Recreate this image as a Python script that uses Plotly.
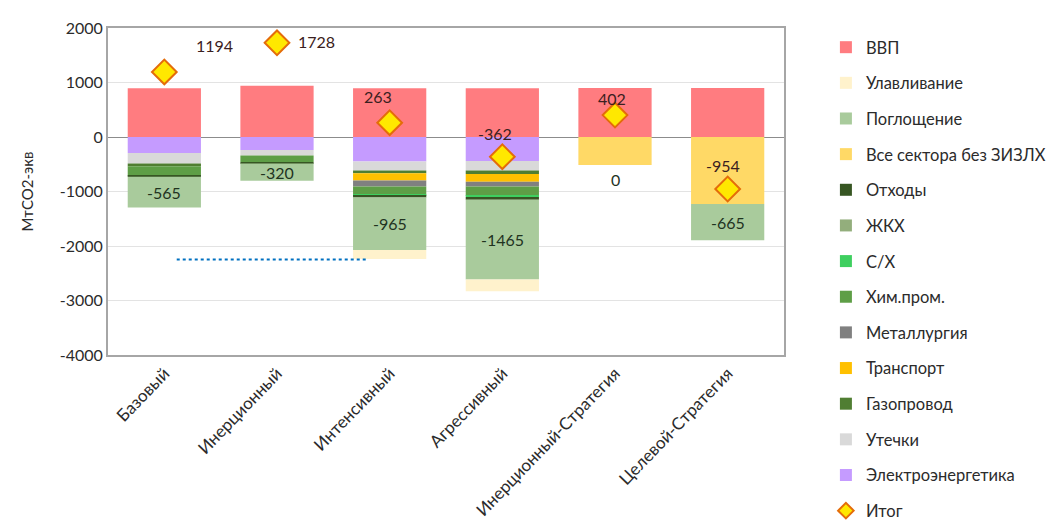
import plotly.graph_objects as go

categories = ["Базовый", "Инерционный", "Интенсивный", "Агрессивный",
              "Инерционный-Стратегия", "Целевой-Стратегия"]

# values, MtCO2-eq (stack order from zero downward)
elektro = [-295, -240, -450, -440, 0, 0]
utechki = [-190, -100, -165, -175, 0, 0]
gazoprovod = [-50, 0, -50, -65, 0, 0]
transport = [0, 0, -135, -140, 0, 0]
metallurgia = [0, 0, -110, -90, 0, 0]
himprom = [-175, -120, -150, -170, 0, 0]
sh = [0, 0, -15, -20, 0, 0]
zhkh = [0, 0, 0, 0, 0, 0]
otkhody = [-20, -25, -35, -50, 0, 0]
vse_sektora = [0, 0, 0, 0, -515, -1230]
pogloshenie = [-565, -320, -965, -1465, 0, -665]
ulavlivanie = [0, 0, -165, -215, 0, 0]
vvp = [895, 940, 895, 895, 900, 900]
itog = [1194, 1728, 263, -362, 402, -954]

y_ticks = [2000, 1000, 0, -1000, -2000, -3000, -4000]

series = [
    ("Электроэнергетика", elektro, "#C59BFF"),
    ("Утечки", utechki, "#D9D9D9"),
    ("Газопровод", gazoprovod, "#507E32"),
    ("Транспорт", transport, "#FFC000"),
    ("Металлургия", metallurgia, "#808080"),
    ("Хим.пром.", himprom, "#5E9E46"),
    ("С/Х", sh, "#3ECF5F"),
    ("ЖКХ", zhkh, "#93AE7C"),
    ("Отходы", otkhody, "#375623"),
    ("Все сектора без ЗИЗЛХ", vse_sektora, "#FFD966"),
    ("Поглощение", pogloshenie, "#A9CB9C"),
    ("Улавливание", ulavlivanie, "#FFF2CC"),
    ("ВВП", vvp, "#FF7C80"),
]
legend_order = ["ВВП", "Улавливание", "Поглощение", "Все сектора без ЗИЗЛХ", "Отходы",
                "ЖКХ", "С/Х", "Хим.пром.", "Металлургия", "Транспорт", "Газопровод",
                "Утечки", "Электроэнергетика", "Итог"]

FONT = "Lato"
TXT = "#2B2B2B"

fig = go.Figure()
for name, vals, col in series:
    fig.add_trace(go.Bar(
        x=categories, y=vals, name=name, marker=dict(color=col, line=dict(width=0)),
        width=0.65, legendrank=legend_order.index(name) + 1,
        legendgroup=name,
    ))

fig.add_trace(go.Scatter(
    x=categories, y=itog, name="Итог", mode="markers",
    marker=dict(symbol="diamond", size=19, color="#FFE800",
                line=dict(color="#E46C0A", width=2)),
    legendrank=len(legend_order), legendgroup="Итог",
))

annotations = []
# Поглощение labels, centered in their segment
stack_before = [elektro, utechki, gazoprovod, transport, metallurgia, himprom, sh, zhkh,
                otkhody, vse_sektora]
for i, cat in enumerate(categories):
    base = sum(s[i] for s in stack_before)
    v = pogloshenie[i]
    if v != 0:
        annotations.append(dict(x=cat, y=base + v / 2, text=str(v), showarrow=False,
                                font=dict(family=FONT, size=16, color="#1F331F")))
    else:
        annotations.append(dict(x=cat, y=base, yshift=-14, text=str(v), showarrow=False,
                                font=dict(family=FONT, size=16, color="#1F331F")))

# Итог labels
itog_shift = [(50, 26), (39, 1), (-12, 26), (-7, 23), (-3, 17), (-5, 23)]
for i, cat in enumerate(categories):
    dx, dy = itog_shift[i]
    annotations.append(dict(x=cat, y=itog[i], xshift=dx, yshift=dy, text=str(itog[i]),
                            showarrow=False,
                            font=dict(family=FONT, size=16, color="#3A2020")))

fig.update_layout(
    width=1060, height=530,
    margin=dict(l=108, r=276, t=28, b=175, autoexpand=False),
    barmode="relative", bargap=0.35,
    plot_bgcolor="white", paper_bgcolor="white",
    font=dict(family=FONT, size=13, color=TXT),
    showlegend=True,
    legend=dict(x=1.062, y=0.994, xanchor="left", yanchor="top",
                traceorder="grouped", tracegroupgap=11.2, maxheight=530,
                itemsizing="constant",
                font=dict(family=FONT, size=16.5, color=TXT),
                itemwidth=30),
    annotations=annotations,
    shapes=[dict(type="line", xref="x", yref="y", x0=0.11, x1=1.8, y0=-2248, y1=-2248,
                 line=dict(color="#0070C0", width=2, dash="dot"), layer="above")],
)
fig.update_xaxes(showgrid=False, tickangle=-46, ticks="", automargin=False,
                 showline=True, mirror=True, linecolor="#A6A6A6", linewidth=2,
                 tickfont=dict(family=FONT, size=17, color=TXT))
fig.update_yaxes(range=[-4000, 2000], tickvals=y_ticks, ticktext=[str(t) for t in y_ticks],
                 automargin=False,
                 showgrid=True, gridcolor="#E3E3E3",
                 zeroline=True, zerolinecolor="#8C8C8C", zerolinewidth=1,
                 showline=True, mirror=True, linecolor="#A6A6A6", linewidth=2,
                 tickfont=dict(family=FONT, size=16, color=TXT),
                 title=dict(text="МтСО2-экв", font=dict(family=FONT, size=15, color=TXT),
                            standoff=22))

fig.write_html("out.html")
